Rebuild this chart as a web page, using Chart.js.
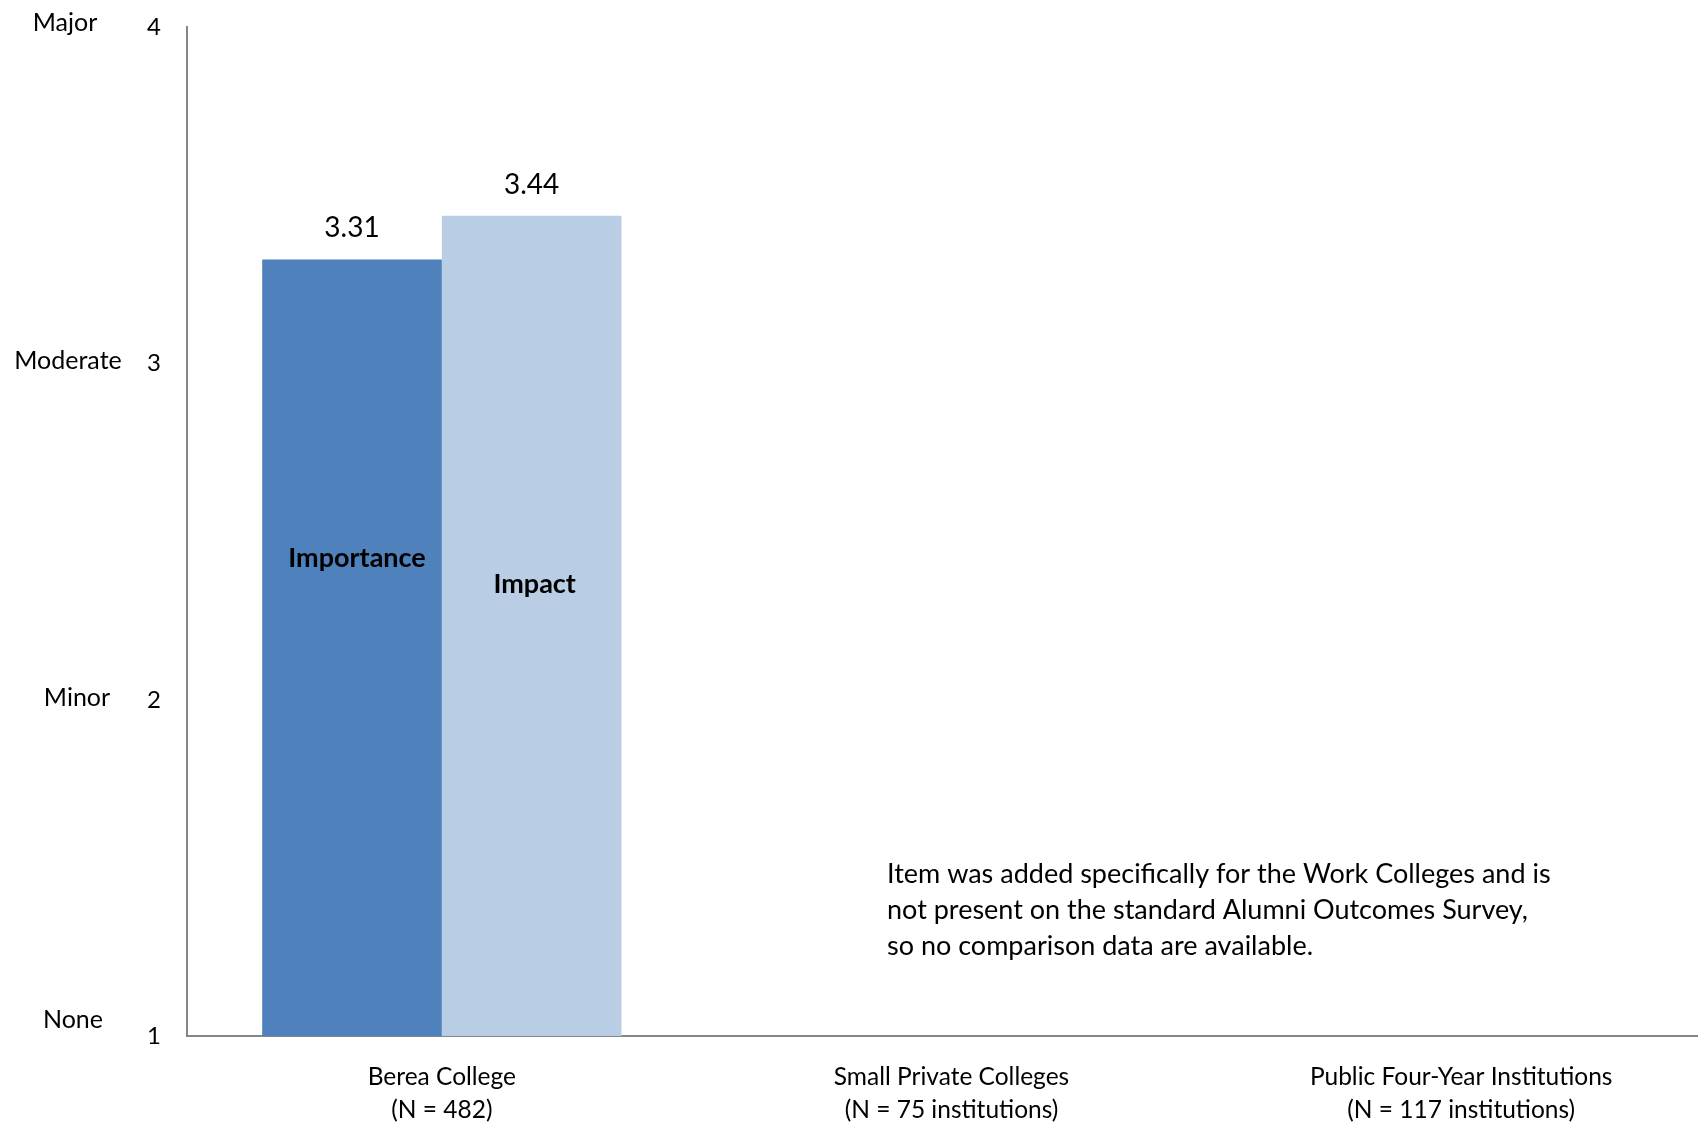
<!DOCTYPE html>
<html>
<head>
<meta charset="utf-8">
<style>
  html, body { margin: 0; padding: 0; background: #fff; }
  #wrap { width: 1698px; height: 1122px; position: relative; overflow: hidden; }
  #chart { position: absolute; left: 0; top: -13px; }
</style>
<script src="https://cdn.jsdelivr.net/npm/chart.js"></script>
</head>
<body>
<div id="wrap"><canvas id="chart" width="1716" height="1135"></canvas></div>
<script>
// Values and labels
const groups = [
  ['Berea College', '(N = 482)'],
  ['Small Private Colleges', '(N = 75 institutions)'],
  ['Public Four-Year Institutions', '(N = 117 institutions)']
];
const importance = [3.31, null, null];
const impact = [3.44, null, null];
const scaleWords = ['None', 'Minor', 'Moderate', 'Major'];
const scaleValues = [1, 2, 3, 4];
const note = [
  'Item was added specifically for the Work Colleges and is',
  'not present on the standard Alumni Outcomes Survey,',
  'so no comparison data are available.'
];

const FONT = 'Lato, "Open Sans", sans-serif';

// word labels left of the numbers, value labels, series names inside the bars, note text
const extras = {
  id: 'extras',
  afterDatasetsDraw(chart) {
    const ctx = chart.ctx;
    const y = chart.scales.y;
    ctx.save();
    ctx.fillStyle = '#000';
    ctx.textBaseline = 'middle';

    // word scale
    ctx.font = '25px ' + FONT;
    ctx.textAlign = 'center';
    const wordX = [73, 77, 68, 65];
    const wordDy = [-16, -2, -3, -4];
    scaleValues.forEach((v, i) => {
      ctx.fillText(scaleWords[i], wordX[i], y.getPixelForValue(v) + wordDy[i]);
    });

    // values above bars
    ctx.font = '28px ' + FONT;
    chart.data.datasets.forEach((ds, di) => {
      chart.getDatasetMeta(di).data.forEach((bar, i) => {
        if (ds.data[i] == null) return;
        ctx.fillText(ds.data[i].toFixed(2), bar.x, bar.y - 31);
      });
    });

    // series names inside the first group
    ctx.font = 'bold 27px ' + FONT;
    const nameAt = [2.42, 2.345];
    const nameDx = [5, 3];
    chart.data.datasets.forEach((ds, di) => {
      const bar = chart.getDatasetMeta(di).data[0];
      ctx.fillText(ds.label, bar.x + nameDx[di], y.getPixelForValue(nameAt[di]));
    });

    // note, placed from the bottom of the value axis
    ctx.font = '27px ' + FONT;
    ctx.textAlign = 'left';
    const base = y.getPixelForValue(1);
    note.forEach((line, i) => ctx.fillText(line, 887, base - 162 + i * 36));
    ctx.restore();
  }
};

new Chart(document.getElementById('chart'), {
  type: 'bar',
  data: {
    labels: groups,
    datasets: [
      { label: 'Importance', data: importance, backgroundColor: '#4F81BD' },
      { label: 'Impact', data: impact, backgroundColor: '#B9CDE5' }
    ]
  },
  options: {
    responsive: false,
    animation: false,
    categoryPercentage: 0.705,
    barPercentage: 1,
    layout: { padding: { top: 13, right: 0, left: 0, bottom: 0 } },
    plugins: {
      legend: { display: false },
      tooltip: { enabled: false }
    },
    scales: {
      x: {
        grid: { display: false, drawTicks: false },
        border: { color: '#868686', width: 2 },
        ticks: {
          color: '#000',
          font: { family: FONT, size: 24.5, lineHeight: 1.34 },
          padding: 25,
          maxRotation: 0,
          autoSkip: false
        },
        afterFit(scale) { scale.height = 86; }
      },
      y: {
        min: 1,
        max: 4,
        grid: { display: false, drawTicks: false },
        border: { color: '#868686', width: 2 },
        ticks: {
          stepSize: 1,
          color: '#000',
          font: { family: FONT, size: 24 },
          padding: 26
        },
        afterFit(scale) { scale.width = 187; }
      }
    }
  },
  plugins: [extras]
});
</script>
</body>
</html>
